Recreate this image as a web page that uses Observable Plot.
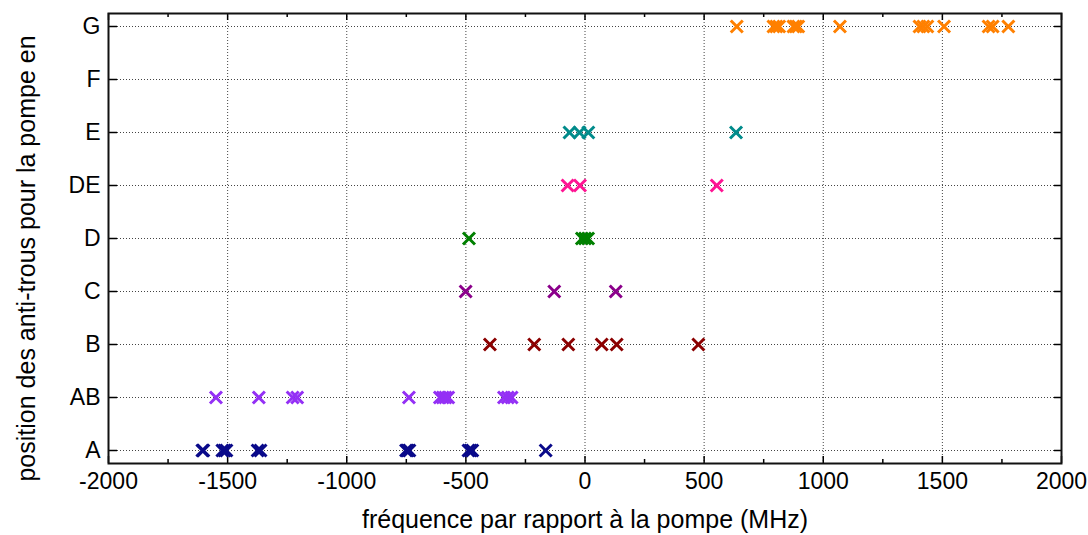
<!DOCTYPE html>
<html><head><meta charset="utf-8">
<script src="https://cdn.jsdelivr.net/npm/d3@7"></script>
<script src="https://cdn.jsdelivr.net/npm/@observablehq/plot@0.6"></script>
<style>body{margin:0;background:#fff}</style>
</head><body><div id="chart"></div>
<script>
// Categories (top to bottom)
const positions = ["G", "F", "E", "DE", "D", "C", "B", "AB", "A"];

// Frequency offsets (MHz) per position
const xA  = [-1606, -1602, -1522, -1513, -1505, -1374, -1362, -751, -744, -737, -489, -481, -473, -165];
const xAB = [-1549, -1369, -1227, -1208, -739, -609, -597, -586, -574, -340, -324, -308];
const xB  = [-399, -213, -70, 70, 133, 476];
const xC  = [-501, -129, 129];
const xD  = [-487, -13, 0, 13];
const xDE = [-73, -21, 553];
const xE  = [-65, -23, 14, 634];
const xF  = [];
const xG  = [637, 791, 803, 815, 875, 885, 895, 1070, 1404, 1420, 1437, 1507, 1694, 1711, 1777];

const seriesColors = ["#ff8000", "#000000", "#008b8b", "#ff1493", "#008000", "#8b008b", "#8b0000", "#9430f5", "#0a0a8a"];

const xMajorTicks = [-2000, -1500, -1000, -500, 0, 500, 1000, 1500, 2000];
const xMinorTicks = [-1750, -1250, -750, -250, 250, 750, 1250, 1750];
const xGrid = [-1500, -1000, -500, 0, 500, 1000, 1500];

const xLabel = "fréquence par rapport à la pompe (MHz)";
const yLabel = "position des anti-trous pour la pompe en";

const series = {A: xA, AB: xAB, B: xB, C: xC, D: xD, DE: xDE, E: xE, F: xF, G: xG};
const data = Object.entries(series).flatMap(([pos, xs]) => xs.map(x => ({pos, x})));

const W = 1088, H = 535, mL = 108, mR = 27, mT = 13, mB = 72;
const innerH = H - mT - mB, innerW = W - mL - mR;

const cross = {draw(ctx) { const s = 6; ctx.moveTo(-s, -s); ctx.lineTo(s, s); ctx.moveTo(s, -s); ctx.lineTo(-s, s); }};

const chart = Plot.plot({
  width: W, height: H,
  marginLeft: mL, marginRight: mR, marginTop: mT, marginBottom: mB,
  x: {domain: [-2000, 2000]},
  y: {type: "point", domain: positions, padding: 0.2},
  color: {type: "ordinal", domain: positions, range: seriesColors},
  style: {fontFamily: "'Liberation Sans', Arial, sans-serif", fontSize: "23px", color: "#000", background: "#fff"},
  marks: [
    Plot.ruleY(positions, {y: d => d, stroke: "#444", strokeDasharray: "1,2", strokeWidth: 1}),
    Plot.ruleX(xGrid, {x: d => d, stroke: "#444", strokeDasharray: "1,2", strokeWidth: 1}),
    Plot.ruleX(xMajorTicks, {x: d => d, insetTop: innerH - 7, stroke: "#000", strokeWidth: 1.5}),
    Plot.ruleX(xMajorTicks, {x: d => d, insetBottom: innerH - 7, stroke: "#000", strokeWidth: 1.5}),
    Plot.ruleX(xMinorTicks, {x: d => d, insetTop: innerH - 4, stroke: "#000", strokeWidth: 1.5}),
    Plot.ruleX(xMinorTicks, {x: d => d, insetBottom: innerH - 4, stroke: "#000", strokeWidth: 1.5}),
    Plot.ruleY(positions, {y: d => d, insetRight: innerW - 9, stroke: "#000", strokeWidth: 1.5}),
    Plot.ruleY(positions, {y: d => d, insetLeft: innerW - 7, stroke: "#000", strokeWidth: 1.5}),
    Plot.frame({stroke: "#111", strokeWidth: 2}),
    Plot.dot(data, {x: "x", y: "pos", stroke: "pos", fill: "none", symbol: cross, strokeWidth: 3}),
    Plot.axisX({ticks: xMajorTicks, tickSize: 0, tickPadding: 9, tickFormat: d => String(d), label: null, fontSize: 23}),
    Plot.axisY({tickSize: 0, tickPadding: 8, label: null, fontSize: 23}),
    Plot.text([xLabel], {text: d => d, frameAnchor: "bottom", textAnchor: "middle", lineAnchor: "middle", dy: 56, fontSize: 25}),
    Plot.text([yLabel], {text: d => d, frameAnchor: "left", textAnchor: "middle", lineAnchor: "middle", rotate: -90, dx: -82, dy: 20, fontSize: 25})
  ]
});
document.getElementById("chart").appendChild(chart);
</script>
</body></html>
